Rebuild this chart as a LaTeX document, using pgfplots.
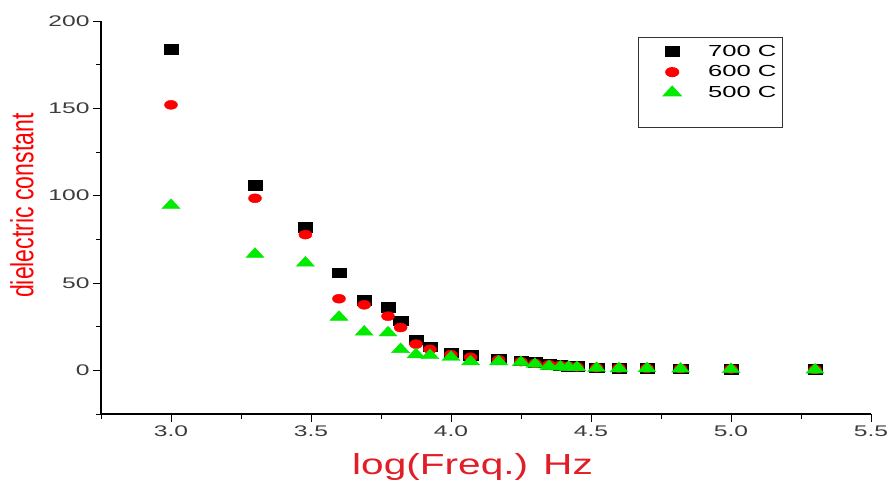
\documentclass[border=0pt]{standalone}
\usepackage{fontspec}
\setmainfont{Liberation Sans}[FakeStretch=1.6]
\newfontfamily\xlabfont{Liberation Sans}[FakeStretch=1.4]
\newfontfamily\ylabfont{Liberation Sans}[FakeStretch=0.72]
\usepackage{pgfplots}
\usepackage{pgfplotstable}
\pgfplotsset{compat=1.18}
\definecolor{labred}{RGB}{225,30,40}
\definecolor{ticgray}{RGB}{60,60,60}
\definecolor{lime}{RGB}{0,235,0}

% log(f) and dielectric constant for the three annealing temperatures
\pgfplotstableread{
x     t700  t600  t500
3.00  184   152   94.5
3.30  106   98.5  66.5
3.48  82    77.7  61.5
3.60  56    41    30.5
3.69  40    37.5  22
3.775 36    31    21.5
3.82  28.5  24.5  12
3.875 17.5  15    9
3.925 13.5  12    8.5
4.00  10    9     7.5
4.07  8.5   7.5   5
4.17  6.5   6     5
4.25  5.5   5     4.5
4.30  4.5   4     3.5
4.35  3.5   3.2   2.3
4.39  3     2.8   2
4.42  2.5   2.3   1.8
4.45  2.2   2     1.6
4.52  1.5   1.5   1.2
4.60  1.3   1.3   1
4.70  1.2   1.2   1
4.82  1.0   1.0   0.8
5.00  0.8   0.8   0.5
5.30  0.5   0.5   0.3
}\datatable

\begin{document}
\begin{tikzpicture}
\useasboundingbox (0,0) rectangle (888pt,480pt);
\begin{axis}[
    at={(101pt,66pt)}, anchor=south west,
    scale only axis, width=770pt, height=393pt,
    xmin=2.75, xmax=5.5, ymin=-25, ymax=200,
    axis lines*=left,
    axis line style={-, line width=1.2pt, black},
    tick align=outside,
    major tick length=8pt, minor tick length=5pt,
    every tick/.style={black, line width=1pt},
    xtick={3,3.5,...,5.5}, minor xtick={2.75,3.25,...,5.25},
    ytick={0,50,...,200}, minor ytick={-25,25,...,175},
    /pgf/number format/assume math mode=true,
    x tick label style={/pgf/number format/.cd, fixed, fixed zerofill, precision=1, /tikz/.cd},
    tick label style={font=\fontsize{15.4}{18}\selectfont, text=ticgray},
    xlabel={\xlabfont log(Freq.) Hz},
    ylabel={\ylabfont dielectric constant},
    xlabel style={font=\fontsize{29}{34}\selectfont, text=labred,
        at={(axis description cs:0.4825,0)}, anchor=base, yshift=-60pt},
    ylabel style={font=\fontsize{32}{38}\selectfont, text=red,
        at={(axis description cs:-0.1026,0.53)}, anchor=center, rotate=0},
    legend style={at={(axis description cs:0.697,0.959)}, anchor=north west,
        draw=black!80, line width=1pt, inner xsep=4pt, inner ysep=5.5pt,
        font=\fontsize{16}{19}\selectfont,
        nodes={inner sep=2pt, text height=11pt, text depth=2pt},
        row sep=3.5pt},
    legend cell align=left,
    legend image code/.code={
        \path[draw=none] (0pt,0pt) -- (64pt,0pt);
        \draw[#1] plot coordinates {(30pt,0pt)};
    },
]
\addplot[only marks, mark=square*, mark size=4.8pt, mark options={xscale=1.5, black}]
    table[x=x, y=t700] {\datatable};
\addlegendentry{700 C}
\addplot[only marks, mark=*, mark size=4.5pt, mark options={xscale=1.45, red, draw=red}]
    table[x=x, y=t600] {\datatable};
\addlegendentry{600 C}
\addplot[only marks, mark=triangle*, mark size=6.5pt, mark options={xscale=1.6, lime, draw=lime}]
    table[x=x, y=t500] {\datatable};
\addlegendentry{500 C}
\addlegendimage{empty legend}
\addlegendentry{}
\end{axis}
\end{tikzpicture}
\end{document}
